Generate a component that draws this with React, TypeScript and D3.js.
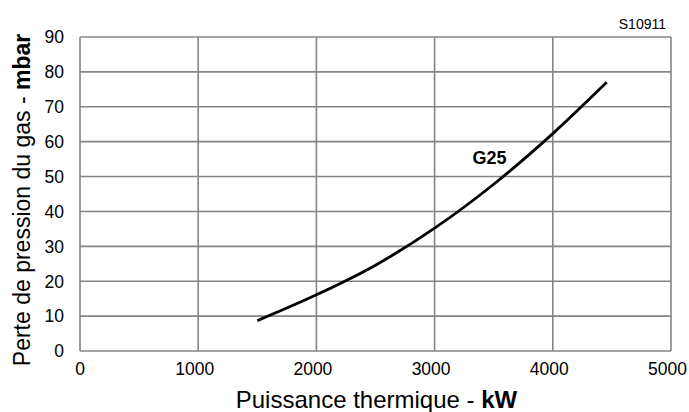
import React from "react";
import * as d3 from "d3";

const xTicks = [0, 1000, 2000, 3000, 4000, 5000];
const yTicks = [0, 10, 20, 30, 40, 50, 60, 70, 80, 90];
const powerKW = [1500, 2000, 2500, 3000, 3500, 4000, 4456];
const pressureMbar = [8.7, 16.1, 24.6, 35.2, 47.8, 62.3, 77.0];
const seriesLabel = "G25";
const codeLabel = "S10911";

const W = 689;
const H = 412;
const M = { left: 80, right: 18, top: 37, bottom: 61 };

export default function App() {
  const x = d3.scaleLinear().domain([0, 5000]).range([M.left, W - M.right]);
  const y = d3.scaleLinear().domain([0, 90]).range([H - M.bottom, M.top]);
  const pts: [number, number][] = powerKW.map((p, i) => [p, pressureMbar[i]]);
  const line = d3
    .line<[number, number]>()
    .x((d) => x(d[0]))
    .y((d) => y(d[1]))
    .curve(d3.curveMonotoneX);
  const font = "Arial, 'Liberation Sans', Helvetica, sans-serif";
  const grid = "#858585";
  return (
    <svg
      width={W}
      height={H}
      style={{ position: "absolute", left: 0, top: 0, background: "#fff" }}
      fontFamily={font}
    >
      <rect x={0} y={0} width={W} height={H} fill="#fff" />
      {xTicks.map((t) => (
        <line key={"gx" + t} x1={x(t)} x2={x(t)} y1={y(0)} y2={y(90)} stroke={grid} strokeWidth={1.6} />
      ))}
      {yTicks.map((t) => (
        <line key={"gy" + t} x1={x(0)} x2={x(5000)} y1={y(t)} y2={y(t)} stroke={grid} strokeWidth={1.6} />
      ))}
      {yTicks.map((t) => (
        <text key={"ty" + t} x={64} y={y(t)} dy="0.36em" textAnchor="end" fontSize={17.5} fill="#000">
          {t}
        </text>
      ))}
      {xTicks.map((t) => (
        <text key={"tx" + t} x={x(t) - (t === 0 ? 0 : 3.5)} y={375} textAnchor="middle" fontSize={17.5} fill="#000">
          {t}
        </text>
      ))}
      <path d={line(pts) || ""} fill="none" stroke="#000" strokeWidth={2.8} strokeLinecap="butt" />
      <text x={472.5} y={163.5} fontSize={18} fontWeight="bold" fill="#000">
        {seriesLabel}
      </text>
      <text x={666} y={29} textAnchor="end" fontSize={14} fill="#000">
        {codeLabel}
      </text>
      <text x={376.5} y={408} textAnchor="middle" fontSize={24} fill="#000">
        Puissance thermique - <tspan fontWeight="bold">kW</tspan>
      </text>
      <text
        transform={`translate(30, 200) rotate(-90)`}
        textAnchor="middle"
        fontSize={23}
        fill="#000"
      >
        Perte de pression du gas - <tspan fontWeight="bold">mbar</tspan>
      </text>
    </svg>
  );
}
